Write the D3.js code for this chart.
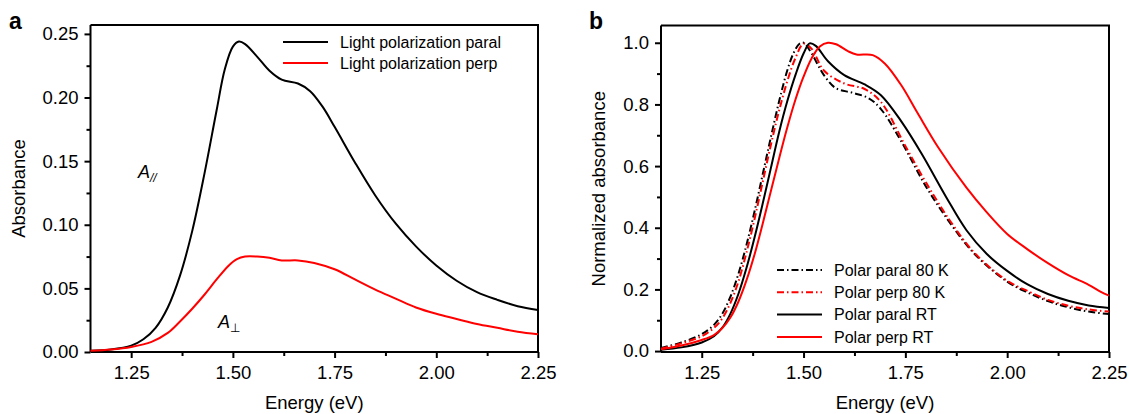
<!DOCTYPE html>
<html lang="en">
<head>
  <meta charset="utf-8">
  <title>Absorbance spectra</title>
  <script src="https://d3js.org/d3.v7.min.js"></script>
  <style type="text/css">
    body { margin: 0; background: #fff; }
    svg { font-family: "Liberation Sans", Arial, sans-serif; }
    .axis path, .axis line { stroke: #000; stroke-width: 2; }
    .axis text { font-size: 18.5px; fill: #000; }
  </style>
</head>
<body>
  <div id="chart"></div>
  <script type="text/javascript">
    // panel a: absorbance
    const energyA = [1.15, 1.20, 1.25, 1.28, 1.31, 1.34, 1.37, 1.40, 1.43, 1.46, 1.48, 1.50, 1.515, 1.53, 1.56, 1.59, 1.62, 1.66, 1.69, 1.72, 1.75, 1.80, 1.85, 1.90, 1.95, 2.00, 2.05, 2.10, 2.15, 2.20, 2.25];
    const paralA = [0.001, 0.002, 0.005, 0.010, 0.019, 0.035, 0.060, 0.095, 0.140, 0.190, 0.222, 0.240, 0.244, 0.242, 0.232, 0.221, 0.214, 0.211, 0.205, 0.193, 0.177, 0.149, 0.123, 0.101, 0.083, 0.068, 0.056, 0.047, 0.041, 0.036, 0.033];
    const energyA2 = [1.15, 1.20, 1.25, 1.30, 1.34, 1.37, 1.40, 1.43, 1.46, 1.49, 1.51, 1.53, 1.56, 1.59, 1.62, 1.66, 1.70, 1.75, 1.80, 1.85, 1.90, 1.95, 2.00, 2.05, 2.10, 2.15, 2.20, 2.25];
    const perpA = [0.001, 0.002, 0.004, 0.008, 0.015, 0.024, 0.034, 0.045, 0.057, 0.068, 0.073, 0.075, 0.075, 0.074, 0.072, 0.072, 0.070, 0.065, 0.057, 0.049, 0.042, 0.035, 0.030, 0.026, 0.022, 0.019, 0.016, 0.014];

    // panel b: normalized absorbance
    const energyB = [1.15, 1.20, 1.25, 1.28, 1.30, 1.32, 1.34, 1.36, 1.38, 1.40, 1.42, 1.44, 1.46, 1.475, 1.49, 1.50, 1.52, 1.55, 1.58, 1.62, 1.66, 1.69, 1.74, 1.80, 1.86, 1.92, 2.00, 2.05, 2.10, 2.15, 2.20, 2.25];
    const paral80K = [0.010, 0.028, 0.055, 0.085, 0.120, 0.175, 0.250, 0.345, 0.455, 0.575, 0.695, 0.810, 0.910, 0.965, 0.997, 1.000, 0.965, 0.895, 0.852, 0.838, 0.820, 0.785, 0.680, 0.535, 0.415, 0.315, 0.225, 0.190, 0.162, 0.142, 0.128, 0.120];
    const energyB2 = [1.15, 1.20, 1.25, 1.28, 1.30, 1.32, 1.34, 1.36, 1.38, 1.40, 1.42, 1.44, 1.46, 1.48, 1.50, 1.52, 1.55, 1.60, 1.65, 1.69, 1.75, 1.80, 1.86, 1.92, 2.00, 2.05, 2.10, 2.15, 2.20, 2.25];
    const perp80K = [0.008, 0.025, 0.048, 0.075, 0.105, 0.155, 0.225, 0.320, 0.430, 0.550, 0.670, 0.780, 0.875, 0.950, 0.997, 0.980, 0.910, 0.868, 0.850, 0.808, 0.665, 0.548, 0.422, 0.318, 0.228, 0.195, 0.166, 0.147, 0.135, 0.128];
    const energyB3 = [1.15, 1.20, 1.25, 1.28, 1.30, 1.32, 1.34, 1.36, 1.38, 1.40, 1.42, 1.44, 1.46, 1.48, 1.50, 1.515, 1.53, 1.56, 1.60, 1.65, 1.69, 1.74, 1.79, 1.85, 1.90, 1.95, 2.00, 2.05, 2.10, 2.15, 2.20, 2.25];
    const paralRT = [0.004, 0.012, 0.028, 0.048, 0.075, 0.120, 0.185, 0.270, 0.370, 0.480, 0.595, 0.710, 0.810, 0.895, 0.965, 0.998, 0.990, 0.940, 0.895, 0.865, 0.830, 0.745, 0.640, 0.500, 0.392, 0.315, 0.260, 0.216, 0.185, 0.163, 0.148, 0.140];
    const energyB4 = [1.15, 1.20, 1.25, 1.28, 1.30, 1.32, 1.34, 1.36, 1.38, 1.40, 1.42, 1.44, 1.46, 1.48, 1.50, 1.52, 1.54, 1.56, 1.58, 1.61, 1.63, 1.67, 1.70, 1.74, 1.78, 1.83, 1.90, 1.95, 2.00, 2.05, 2.10, 2.15, 2.20, 2.23, 2.25];
    const perpRT = [0.006, 0.018, 0.036, 0.052, 0.074, 0.108, 0.160, 0.230, 0.315, 0.415, 0.520, 0.625, 0.725, 0.815, 0.890, 0.950, 0.988, 1.000, 0.995, 0.972, 0.962, 0.960, 0.932, 0.862, 0.772, 0.662, 0.530, 0.450, 0.380, 0.330, 0.285, 0.246, 0.215, 0.192, 0.180];

    const w = 1129;
    const h = 414;

    const svg = d3.select("#chart")
        .append("svg")
        .attr("width", w)
        .attr("height", h);

    function zip(xs, ys) { return xs.map((x, i) => [x, ys[i]]); }

    function drawPanel(opt) {
      const x = d3.scaleLinear().domain([1.15, 2.25]).range([opt.left, opt.right]);
      const y = d3.scaleLinear().domain(opt.yDomain).range([opt.bottom, opt.top]);

      // frame on top and right
      svg.append("path")
          .attr("d", `M${opt.left},${opt.top}H${opt.right}V${opt.bottom}`)
          .attr("fill", "none")
          .attr("stroke", "#000")
          .attr("stroke-width", 2);

      const xAxis = svg.append("g")
          .attr("class", "axis")
          .attr("transform", "translate(0," + opt.bottom + ")")
          .call(d3.axisBottom(x).tickValues([1.25, 1.5, 1.75, 2.0, 2.25]).tickFormat(d3.format(".2f")).tickSize(6).tickPadding(8));
      xAxis.select(".domain").attr("d", `M${opt.left},0H${opt.right}`);
      svg.append("g")
          .attr("class", "axis")
          .attr("transform", "translate(0," + opt.bottom + ")")
          .call(d3.axisBottom(x).tickValues([1.375, 1.625, 1.875, 2.125]).tickFormat("").tickSize(4))
          .select(".domain").remove();

      const yAxis = svg.append("g")
          .attr("class", "axis")
          .attr("transform", "translate(" + opt.left + ",0)")
          .call(d3.axisLeft(y).tickValues(opt.yTicks).tickFormat(d3.format(opt.yFmt)).tickSize(6).tickPadding(6));
      yAxis.select(".domain").attr("d", `M0,${opt.bottom}V${opt.top}`);
      svg.append("g")
          .attr("class", "axis")
          .attr("transform", "translate(" + opt.left + ",0)")
          .call(d3.axisLeft(y).tickValues(opt.yMinor).tickFormat("").tickSize(4))
          .select(".domain").remove();

      const line = d3.line()
          .x(d => x(d[0]))
          .y(d => y(d[1]))
          .curve(d3.curveCatmullRom.alpha(0.5));

      opt.series.forEach(s => {
        svg.append("path")
            .datum(s.data)
            .attr("d", line)
            .attr("fill", "none")
            .attr("stroke", s.color)
            .attr("stroke-width", 2)
            .attr("stroke-dasharray", s.dash || null);
      });

      // axis titles
      svg.append("text")
          .attr("x", (opt.left + opt.right) / 2)
          .attr("y", 409)
          .attr("text-anchor", "middle")
          .style("font-size", "18.5px")
          .text("Energy (eV)");
      svg.append("text")
          .attr("transform", "translate(" + opt.yTitleX + "," + ((opt.top + opt.bottom) / 2) + ") rotate(-90)")
          .attr("text-anchor", "middle")
          .style("font-size", "18.5px")
          .text(opt.yTitle);

      // panel letter
      svg.append("text")
          .attr("x", opt.letterX)
          .attr("y", 29)
          .style("font-size", "23px")
          .style("font-weight", "bold")
          .text(opt.letter);

      // legend
      const legend = svg.selectAll(null)
          .data(opt.series)
          .enter().append("g")
          .attr("transform", (d, i) => `translate(${opt.legX},${opt.legY + i * opt.legStep})`);
      legend.append("line")
          .attr("x1", 0).attr("x2", 45)
          .attr("stroke", d => d.color)
          .attr("stroke-width", 2)
          .attr("stroke-dasharray", d => d.dash || null);
      legend.append("text")
          .attr("x", 57)
          .attr("dy", "0.35em")
          .style("font-size", "16px")
          .text(d => d.name);
      return { x, y };
    }

    const dash = "7,3,1.5,3";

    drawPanel({
      left: 90.5, right: 538, top: 25, bottom: 352,
      yDomain: [0, 0.257],
      yTicks: [0, 0.05, 0.10, 0.15, 0.20, 0.25],
      yMinor: [0.025, 0.075, 0.125, 0.175, 0.225],
      yFmt: ".2f",
      yTitle: "Absorbance", yTitleX: 25,
      letter: "a", letterX: 9,
      legX: 283, legY: 42, legStep: 21,
      series: [
        { name: "Light polarization paral", color: "#000", data: zip(energyA, paralA) },
        { name: "Light polarization perp", color: "#ff0000", data: zip(energyA2, perpA) }
      ]
    });

    drawPanel({
      left: 661, right: 1109, top: 25.5, bottom: 352,
      yDomain: [-0.003, 1.056],
      yTicks: [0, 0.2, 0.4, 0.6, 0.8, 1.0],
      yMinor: [0.1, 0.3, 0.5, 0.7, 0.9],
      yFmt: ".1f",
      yTitle: "Normalized absorbance", yTitleX: 605,
      letter: "b", letterX: 589,
      legX: 777, legY: 270, legStep: 22.3,
      series: [
        { name: "Polar paral 80 K", color: "#000", dash: dash, data: zip(energyB, paral80K) },
        { name: "Polar perp 80 K", color: "#ff0000", dash: dash, data: zip(energyB2, perp80K) },
        { name: "Polar paral RT", color: "#000", data: zip(energyB3, paralRT) },
        { name: "Polar perp RT", color: "#ff0000", data: zip(energyB4, perpRT) }
      ]
    });

    // curve labels in panel a
    const aPar = svg.append("text").attr("x", 138).attr("y", 178).style("font-size", "18px").style("font-style", "italic");
    aPar.append("tspan").text("A");
    aPar.append("tspan").attr("dy", 4).style("font-size", "12px").text("//");
    const aPerp = svg.append("text").attr("x", 218).attr("y", 328).style("font-size", "18px").style("font-style", "italic");
    aPerp.append("tspan").text("A");
    aPerp.append("tspan").attr("dy", 4).style("font-size", "12px").style("font-style", "normal").text("\u22A5");
  </script>
</body>
</html>
